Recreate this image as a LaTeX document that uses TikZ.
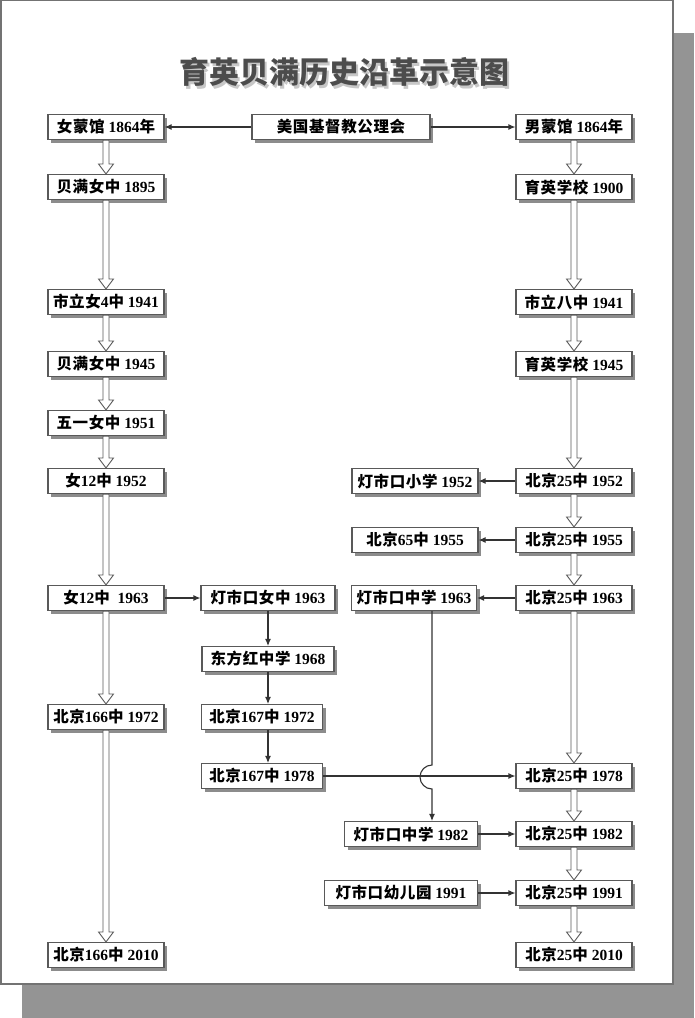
\documentclass[tikz,border=0pt]{standalone}
\usepackage{fontspec}
\setmainfont{Liberation Serif}
\newfontfamily\cjk{Noto Sans CJK SC}[LetterSpace=4]
\newfontfamily\cjktitle{Noto Sans CJK SC}
\newcommand\zh[1]{{\cjk #1}}
\usetikzlibrary{arrows.meta,shadows,calc}

\tikzset{
  box/.style={draw=black!65, fill=white, line width=1.1pt, minimum height=25pt,
    inner sep=2pt, font=\bfseries\fontsize{15.5}{17}\selectfont,
    drop shadow={shadow xshift=3pt, shadow yshift=-3pt, fill=black!45, opacity=1}},
  arr/.style={draw=black!80, line width=1.1pt, -{Latex[length=7pt,width=6pt]}},
  hollow/.style={draw=black!65, fill=white, line width=0.9pt, to path={
    let \p1=(\tikztostart.south), \p2=(\tikztotarget.north) in
    (\x1-3pt,\y1) -- (\x1-3pt,\y2+10pt) -- (\x1-7.5pt,\y2+10pt) -- (\x1,\y2)
    -- (\x1+7.5pt,\y2+10pt) -- (\x1+3pt,\y2+10pt) -- (\x1+3pt,\y1) -- cycle}}
}

\begin{document}
\begin{tikzpicture}[x=1pt, y=-1pt]
% Page and its shadow
\fill[black!42] (22,33) rectangle (694,1018);
\draw[black!55, fill=white, line width=1.2pt] (1,0.6) rectangle (673,984);
\useasboundingbox (0,0) rectangle (694,1018);

% Title
\node[text=black!22, font=\cjktitle\bfseries\fontsize{30}{32}\selectfont] (titleshadow) at (346.5,74.5) {育英贝满历史沿革示意图};
\node[text=black!70, font=\cjktitle\bfseries\fontsize{30}{32}\selectfont] (title) at (344,72) {育英贝满历史沿革示意图};

% Define nodes: top row
\node[box, minimum width=178pt] (church) at (341,127) {\zh{美国基督教公理会}};
\node[box, minimum width=116pt] (nmg) at (106,127) {\zh{女蒙馆} 1864\zh{年}};
\node[box, minimum width=116pt] (mmg) at (574,127) {\zh{男蒙馆} 1864\zh{年}};

% Left column
\node[box, minimum width=116pt] (bm95) at (106,187) {\zh{贝满女中} 1895};
\node[box, minimum width=116pt] (sln41) at (106,302) {\zh{市立女}4\zh{中} 1941};
\node[box, minimum width=116pt] (bm45) at (106,364) {\zh{贝满女中} 1945};
\node[box, minimum width=116pt] (wy51) at (106,423) {\zh{五一女中} 1951};
\node[box, minimum width=116pt] (n1252) at (106,481) {\zh{女}12\zh{中} 1952};
\node[box, minimum width=116pt] (n1263) at (106,598) {\zh{女}12\zh{中}\ \ 1963};
\node[box, minimum width=116pt] (bj16672) at (106,717) {\zh{北京}166\zh{中} 1972};
\node[box, minimum width=116pt] (bj16610) at (106,955) {\zh{北京}166\zh{中} 2010};

% Right column
\node[box, minimum width=116pt] (yy00) at (574,187) {\zh{育英学校} 1900};
\node[box, minimum width=116pt] (slb41) at (574,302) {\zh{市立八中} 1941};
\node[box, minimum width=116pt] (yy45) at (574,364) {\zh{育英学校} 1945};
\node[box, minimum width=116pt] (bj2552) at (574,481) {\zh{北京}25\zh{中} 1952};
\node[box, minimum width=116pt] (bj2555) at (574,540) {\zh{北京}25\zh{中} 1955};
\node[box, minimum width=116pt] (bj2563) at (574,598) {\zh{北京}25\zh{中} 1963};
\node[box, minimum width=116pt] (bj2578) at (574,776) {\zh{北京}25\zh{中} 1978};
\node[box, minimum width=116pt] (bj2582) at (574,834) {\zh{北京}25\zh{中} 1982};
\node[box, minimum width=116pt] (bj2591) at (574,893) {\zh{北京}25\zh{中} 1991};
\node[box, minimum width=116pt] (bj2510) at (574,955) {\zh{北京}25\zh{中} 2010};

% Middle columns
\node[box, minimum width=134pt] (dsnz63) at (268,598) {\zh{灯市口女中} 1963};
\node[box, minimum width=132pt] (dfh68) at (268,659) {\zh{东方红中学} 1968};
\node[box, minimum width=121pt] (bj16772) at (262,717) {\zh{北京}167\zh{中} 1972};
\node[box, minimum width=121pt] (bj16778) at (262,776) {\zh{北京}167\zh{中} 1978};
\node[box, minimum width=126pt] (dsxx52) at (415,481) {\zh{灯市口小学} 1952};
\node[box, minimum width=126pt] (bj6555) at (415,540) {\zh{北京}65\zh{中} 1955};
\node[box, minimum width=125pt] (dszx63) at (414,598) {\zh{灯市口中学} 1963};
\node[box, minimum width=133pt] (dszx82) at (411,834) {\zh{灯市口中学} 1982};
\node[box, minimum width=153pt] (dsyey91) at (401,893) {\zh{灯市口幼儿园} 1991};
\coordinate (jump) at (432,777);

% Hollow arrows
\draw[hollow] (nmg) to (bm95);
\draw[hollow] (bm95) to (sln41);
\draw[hollow] (sln41) to (bm45);
\draw[hollow] (bm45) to (wy51);
\draw[hollow] (wy51) to (n1252);
\draw[hollow] (n1252) to (n1263);
\draw[hollow] (n1263) to (bj16672);
\draw[hollow] (bj16672) to (bj16610);
\draw[hollow] (mmg) to (yy00);
\draw[hollow] (yy00) to (slb41);
\draw[hollow] (slb41) to (yy45);
\draw[hollow] (yy45) to (bj2552);
\draw[hollow] (bj2552) to (bj2555);
\draw[hollow] (bj2555) to (bj2563);
\draw[hollow] (bj2563) to (bj2578);
\draw[hollow] (bj2578) to (bj2582);
\draw[hollow] (bj2582) to (bj2591);
\draw[hollow] (bj2591) to (bj2510);

% Plain arrows
\draw[arr] (church) -- (nmg);
\draw[arr] (church) -- (mmg);
\draw[arr] (bj2552) -- (dsxx52);
\draw[arr] (bj2555) -- (bj6555);
\draw[arr] (bj2563) -- (dszx63);
\draw[arr] (n1263) -- (dsnz63);
\draw[arr] (dsnz63) -- (dfh68);
\draw[arr] (dfh68.south) -- (dfh68.south |- bj16772.north);
\draw[arr] (dfh68.south |- bj16772.south) -- (dfh68.south |- bj16778.north);
\draw[arr] (bj16778) -- (bj2578);
\draw[arr] (dszx63.south -| jump) -- ([yshift=12pt]jump)
  arc[start angle=-90, end angle=-270, radius=12] -- (dszx82.north -| jump);
\draw[arr] (dszx82) -- (bj2582);
\draw[arr] (dsyey91) -- (bj2591);
\end{tikzpicture}
\end{document}
